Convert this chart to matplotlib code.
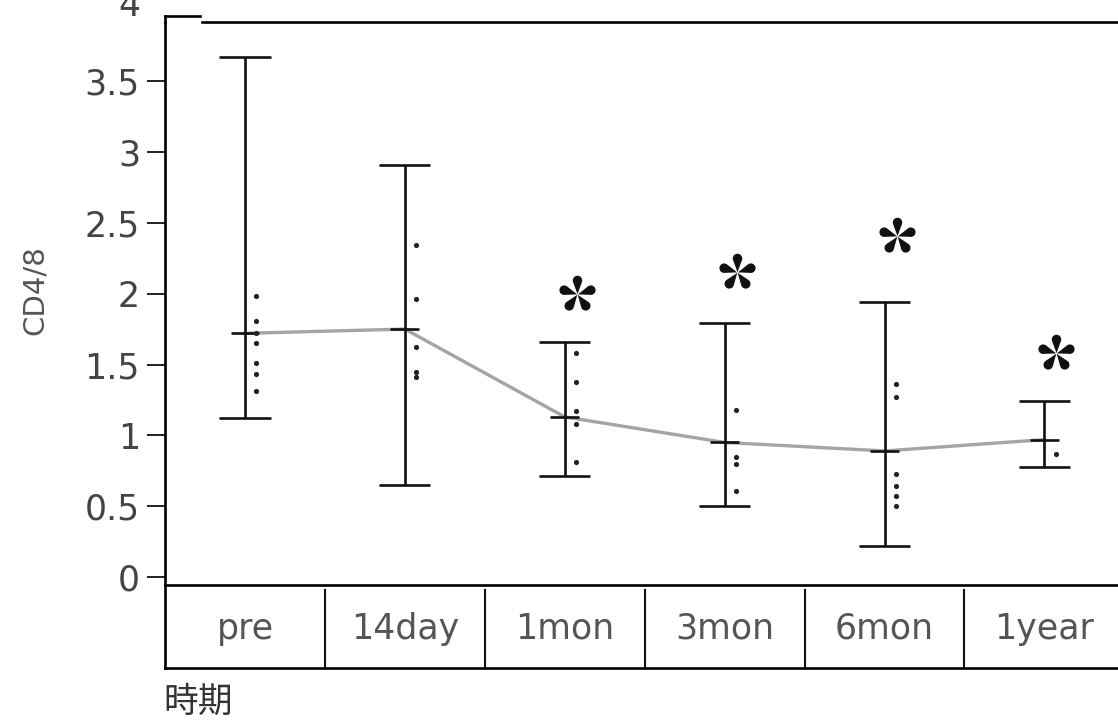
import matplotlib
matplotlib.use("Agg")
import matplotlib.pyplot as plt
from matplotlib.path import Path
from matplotlib.ticker import FuncFormatter
import numpy as np

plt.rcParams['font.family'] = ['DejaVu Sans']

# CD4/8 ratio per period: mean, range and individual values
periods = ["pre", "14day", "1mon", "3mon", "6mon", "1year"]
means = [1.72, 1.75, 1.13, 0.95, 0.89, 0.97]
upper = [3.67, 2.91, 1.66, 1.79, 1.94, 1.24]
lower = [1.12, 0.65, 0.71, 0.50, 0.22, 0.78]
points = [
    [1.98, 1.81, 1.72, 1.65, 1.51, 1.43, 1.31],
    [2.34, 1.96, 1.62, 1.45, 1.41],
    [1.58, 1.38, 1.17, 1.08, 0.81],
    [1.18, 0.85, 0.80, 0.61],
    [1.36, 1.27, 0.73, 0.64, 0.57, 0.50],
    [0.87],
]
# significance marks
star_periods = ["1mon", "3mon", "6mon", "1year"]
star_y = [2.00, 2.15, 2.41, 1.58]

yticks = [0, 0.5, 1, 1.5, 2, 2.5, 3, 3.5]


def petal_star(n=5):
    # teardrop petals around the centre, one pointing up
    tip, cy, r = 0.02, 0.74, 0.25
    half = np.degrees(np.arccos(r / (cy - tip)))
    ang = np.radians(np.linspace(-90 + half, 270 - half, 40))
    base = np.vstack([[0, tip], np.column_stack([r * np.cos(ang), cy + r * np.sin(ang)]), [0, tip]])
    verts, codes = [], []
    for k in range(n):
        a = np.radians(360 / n * k)
        rot = np.array([[np.cos(a), -np.sin(a)], [np.sin(a), np.cos(a)]])
        pts = base @ rot.T
        verts.extend(pts)
        codes.extend([Path.MOVETO] + [Path.LINETO] * (len(pts) - 2) + [Path.CLOSEPOLY])
    return Path(verts, codes)


W, H = 1118, 726
fig = plt.figure(figsize=(W / 100, H / 100), dpi=100)
L, R = 165, 1118
tab = fig.add_axes([L / W, (H - 668) / H, (R - L) / W, (668 - 585) / H])
ax = fig.add_axes([L / W, (H - 585) / H, (R - L) / W, (585 - 22) / H])
tab.patch.set_alpha(0)
ax.patch.set_alpha(0)

x = np.arange(len(periods))
lw = 1.9

ax.plot(x, means, color="#a4a4a4", lw=2.4, zorder=2)
ax.vlines(x, lower, upper, color="#111111", lw=lw, zorder=3)
ax.hlines(upper, x - 0.16, x + 0.16, color="#111111", lw=lw, zorder=3)
ax.hlines(lower, x - 0.16, x + 0.16, color="#111111", lw=lw, zorder=3)
ax.hlines(means, x - 0.09, x + 0.09, color="#111111", lw=lw, zorder=3)
for i, pts in enumerate(points):
    ax.scatter(np.full(len(pts), i + 0.07), pts, s=14, color="#222222",
               linewidths=0, zorder=4)

sx = [periods.index(p) + 0.075 for p in star_periods]
ax.plot(sx, star_y, ls="none", marker=petal_star(), markersize=27,
        color="#111111", markeredgewidth=0, zorder=5)

ax.set_xlim(-0.5, 5.46)
ax.set_ylim(-0.056, 3.917)
ax.set_yticks(yticks)
ax.yaxis.set_major_formatter(FuncFormatter(lambda v, p: f"{v:g}"))
ax.set_xticks([])
ax.tick_params(axis="y", length=13, width=1.4, pad=5, labelsize=25,
               labelcolor="#444444", color="#222222")
for s in ["right", "top"]:
    ax.spines[s].set_visible(False)
for s in ["left", "bottom"]:
    ax.spines[s].set_linewidth(1.9)

# top frame line with its small step at the left corner
ax.plot([(202 - L) / (R - L), 1], [1, 1], color="black", lw=1.9,
        transform=ax.transAxes, clip_on=False)
ax.plot([0, (200 - L) / (R - L)], [1 + 6 / 563, 1 + 6 / 563], color="black",
        lw=1.9, transform=ax.transAxes, clip_on=False)
ax.plot([0, 0], [1, 1 + 6 / 563], color="black", lw=1.9,
        transform=ax.transAxes, clip_on=False)

ax.annotate("4", xy=(0, 4), xycoords=ax.get_yaxis_transform(),
            xytext=(-18, 3), textcoords="offset points", ha="right",
            va="center", fontsize=25, color="#444444", annotation_clip=False)

# category table under the plot
tab.set_xlim(ax.get_xlim())
tab.set_ylim(0, 1)
tab.set_xticks([])
tab.set_yticks([])
for s in ["right", "top"]:
    tab.spines[s].set_visible(False)
for s in ["left", "bottom"]:
    tab.spines[s].set_linewidth(1.9)
tab.vlines(x[:-1] + 0.5, 0, 0.95, color="#111111", lw=1.5)
for i, name in enumerate(periods):
    tab.text(i, 0.47, name, ha="center", va="center", fontsize=25,
             color="#555555")

fig.text(35 / W, 1 - 290 / H, "CD4/8", rotation=90, ha="center",
         va="center", fontsize=21, color="#555555")
fig.text(163 / W, 1 - 702 / H, "時期", ha="left", va="center", fontsize=25,
         color="#333333", family=["Noto Sans CJK JP", "DejaVu Sans"])

fig.savefig("out.png", dpi=100)
